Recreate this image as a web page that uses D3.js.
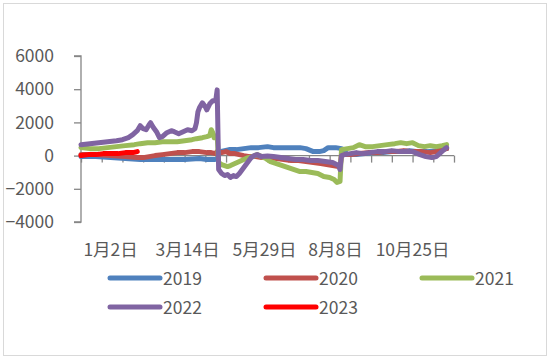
<!DOCTYPE html>
<html>
 <head>
  <meta charset="utf-8">
  <script src="https://d3js.org/d3.v7.min.js"></script>
  <style>
   body { margin: 0; background: #fff; }
   text { font-family: "Noto Sans CJK SC", "Noto Sans", sans-serif; fill: #595959; }
  </style>
 </head>
 <body>
  <div id="chart"></div>
  <script type="text/javascript">
   // trading-day index on the category axis, value
   var s2019 = [[0,-60],[10,-60],[20,-120],[30,-180],[40,-240],[50,-240],[60,-240],[70,-240],[80,-180],[85,-240],[90,-240],[92,-180],
     [94,240],[97,300],[100,360],[105,360],[110,420],[115,480],[120,480],[126,540],[130,480],[136,480],[142,480],[148,480],[152,420],
     [157,240],[161,240],[164,300],[167,480],[172,480],[176,420],[180,60],[186,60],[192,120],[198,180],[204,180],[210,240],[216,240],
     [222,300],[228,240],[234,240],[240,300],[247,420]];
   var s2020 = [[0,60],[10,60],[20,0],[30,-60],[38,-120],[42,-120],[46,-60],[50,0],[55,60],[60,120],[65,180],[70,180],[75,240],[80,240],
     [85,180],[88,180],[91,120],[92,240],[95,180],[98,240],[101,120],[104,120],[107,60],[110,0],[114,-60],[118,-60],[122,-120],[127,-120],
     [132,-180],[137,-240],[142,-300],[147,-300],[152,-360],[157,-420],[162,-480],[166,-540],[170,-600],[174,-660],[175,-720],[176,60],
     [182,60],[188,120],[194,180],[200,180],[206,240],[212,240],[218,300],[224,240],[230,240],[236,180],[240,240],[244,360],[247,420]];
   var s2021 = [[0,480],[6,420],[12,420],[18,480],[24,540],[30,600],[36,660],[40,720],[45,780],[50,780],[55,840],[60,840],[65,840],
     [70,900],[75,960],[78,1020],[82,1080],[85,1140],[87,1200],[88,1560],[89,1380],[90,1080],[91,1140],[92,1200],[93,-420],[95,-540],
     [97,-600],[99,-660],[101,-600],[104,-480],[107,-360],[110,-240],[113,-120],[116,-60],[119,60],[122,-60],[125,-180],[128,-360],
     [132,-480],[136,-600],[140,-720],[144,-840],[148,-960],[152,-960],[156,-1020],[160,-1080],[164,-1260],[168,-1320],[171,-1440],
     [173,-1620],[175,-1560],[176,360],[180,420],[184,480],[188,660],[192,540],[197,540],[202,600],[207,660],[212,720],[216,780],
     [220,720],[224,780],[228,600],[232,540],[236,600],[240,540],[244,600],[247,660]];
   var s2022 = [[0,660],[6,720],[12,780],[18,840],[24,900],[28,960],[32,1080],[35,1260],[38,1500],[40,1800],[42,1620],[44,1560],
     [46,1860],[47,1980],[49,1680],[51,1440],[53,1080],[55,1140],[58,1380],[61,1500],[63,1440],[66,1320],[69,1440],[72,1560],[75,1500],
     [77,1620],[78,1980],[79,2640],[80,2880],[82,3180],[84,2940],[85,2760],[87,3120],[89,3300],[91,3300],[92,3960],[93,-840],[95,-1080],
     [97,-1200],[99,-1140],[101,-1320],[103,-1200],[105,-1260],[107,-1080],[109,-840],[111,-600],[113,-360],[115,-120],[117,0],[119,60],
     [122,-60],[126,-30],[130,-60],[135,-120],[140,-180],[145,-240],[150,-240],[155,-300],[160,-300],[165,-360],[170,-420],[174,-600],
     [175,-840],[176,0],[178,60],[182,120],[186,180],[190,120],[195,180],[200,240],[205,240],[210,300],[216,240],[224,240],[229,60],
     [233,-60],[237,-120],[240,-60],[243,180],[246,420],[247,480]];
   var s2023 = [[0,0],[5,60],[10,60],[15,120],[20,120],[25,120],[30,180],[35,180],[38,240]];

   var seriesNames = ["2019", "2020", "2021", "2022", "2023"];
   var seriesColors = ["#4F81BD", "#C0504D", "#9BBB59", "#8064A2", "#FF0000"];
   var seriesData = [s2019, s2020, s2021, s2022, s2023];

   var dateLabels = ["1月2日", "3月14日", "5月29日", "8月8日", "10月25日"];
   var dateLabelDays = [20, 72, 124, 172, 224];
   var yTicks = [-4000, -2000, 0, 2000, 4000, 6000];
   var dayCount = 252, tickEvery = 14;

   var width = 550, height = 360;
   var svg = d3.select("#chart").append("svg")
     .attr("width", width).attr("height", height);

   svg.append("rect")
     .attr("x", 3.5).attr("y", 3.5).attr("width", 543).attr("height", 352)
     .attr("fill", "#fff").attr("stroke", "#d9d9d9");

   var x = d3.scaleLinear().domain([0, dayCount]).range([81, 454]);
   var y = d3.scaleLinear().domain([-4000, 6000]).range([222, 56]);

   // y axis
   var yAxis = svg.append("g")
     .attr("transform", "translate(81,0)")
     .call(d3.axisLeft(y).tickValues(yTicks).tickSize(7).tickPadding(20).tickFormat(d3.format("d")));
   yAxis.selectAll("path, line").attr("stroke", "#868686").attr("stroke-width", 1.3);
   yAxis.selectAll("text").style("font-size", "17.5px").attr("fill", "#595959");
   yAxis.select(".domain").attr("d", "M-7," + y(6000) + "H0V" + y(-4000) + "H-7");

   // x axis on zero line, labels low
   var xAxis = svg.append("g")
     .attr("transform", "translate(0," + y(0) + ")")
     .call(d3.axisBottom(x).tickValues(d3.range(0, dayCount + 1, tickEvery)).tickSize(7).tickFormat(""));
   xAxis.selectAll("path, line").attr("stroke", "#868686").attr("stroke-width", 1.3);
   xAxis.select(".domain").attr("d", "M" + x(0) + ",0H" + x(dayCount));

   svg.selectAll(".datelab")
     .data(dateLabels)
     .enter()
     .append("text")
       .attr("class", "datelab")
       .attr("x", function (d, i) { return x(dateLabelDays[i]); })
       .attr("y", 256)
       .attr("text-anchor", "middle")
       .style("font-size", "17.5px")
       .text(function (d) { return d; });

   var line = d3.line()
     .x(function (d) { return x(d[0]); })
     .y(function (d) { return y(d[1]); });

   svg.selectAll(".series")
     .data(seriesData)
     .enter()
     .append("path")
       .attr("class", "series")
       .attr("d", line)
       .attr("fill", "none")
       .attr("stroke", function (d, i) { return seriesColors[i]; })
       .attr("stroke-width", 5)
       .attr("stroke-linejoin", "round")
       .attr("stroke-linecap", "round");

   // legend, three per row
   var legX = [110, 266, 422], legY = [278, 307];
   var leg = svg.selectAll(".leg")
     .data(seriesNames)
     .enter()
     .append("g")
       .attr("class", "leg")
       .attr("transform", function (d, i) {
         return "translate(" + legX[i % 3] + "," + legY[Math.floor(i / 3)] + ")";
       });
   leg.append("line")
     .attr("x1", 0).attr("x2", 50).attr("y1", 0).attr("y2", 0)
     .attr("stroke", function (d, i) { return seriesColors[i]; })
     .attr("stroke-width", 5)
     .attr("stroke-linecap", "round");
   leg.append("text")
     .attr("x", 53).attr("y", 6.5)
     .style("font-size", "17.5px")
     .text(function (d) { return d; });
  </script>
 </body>
</html>
